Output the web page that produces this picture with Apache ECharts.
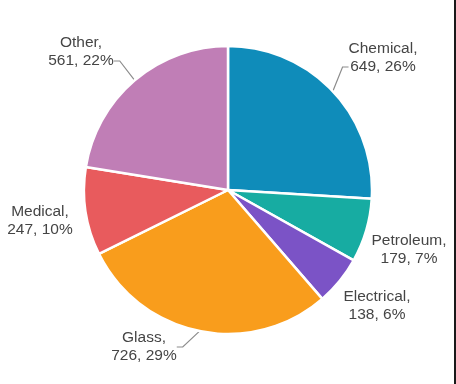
<!DOCTYPE html>
<html>
<head>
<meta charset="utf-8">
<script src="https://cdn.jsdelivr.net/npm/echarts@6/dist/echarts.min.js"></script>
<style>
html,body{margin:0;padding:0;background:#fff;}
#wrap{width:454px;height:384px;border-right:2px solid #1a1a1a;}
#chart{width:454px;height:384px;}
</style>
</head>
<body>
<div id="wrap"><div id="chart"></div></div>
<script>
const categories = ['Chemical', 'Petroleum', 'Electrical', 'Glass', 'Medical', 'Other'];
const values = [649, 179, 138, 726, 247, 561];
const colors = ['#0f8cba', '#17aca2', '#7b53c6', '#f99d1c', '#e85b5d', '#c07eb6'];
const showLine = [true, false, false, true, false, true];
// label line attaches to second text line for these
const lineOnSecond = [true, false, false, false, false, true];
// label anchor positions (layout, not data)
const labelPos = [[383, 67], [409, 250], [377, 306], [144, 347], [40, 221], [81, 61]];

const total = values.reduce((a, b) => a + b, 0);
const chart = echarts.init(document.getElementById('chart'));
chart.setOption({
  animation: false,
  series: [{
    type: 'pie',
    center: [228, 190],
    radius: [0, 144],
    startAngle: 90,
    clockwise: true,
    avoidLabelOverlap: false,
    itemStyle: { borderColor: '#fff', borderWidth: 2.5 },
    label: {
      show: true,
      position: 'outside',
      color: '#454545',
      fontFamily: 'Liberation Sans, Arial, sans-serif',
      fontSize: 15.5,
      lineHeight: 18,
      align: 'center',
      formatter: p => p.name + ',\n' + p.value + ', ' + Math.round(p.value / total * 100) + '%' + (lineOnSecond[p.dataIndex] ? '\n ' : '')
    },
    labelLine: { show: true, length: 8, length2: 6, lineStyle: { color: '#8c8c8c', width: 1.2 } },
    labelLayout: p => ({ x: labelPos[p.dataIndex][0], y: labelPos[p.dataIndex][1], align: 'center', verticalAlign: 'middle' }),
    data: categories.map((c, i) => ({
      name: c, value: values[i],
      itemStyle: { color: colors[i] },
      labelLine: { show: showLine[i] }
    }))
  }]
});
</script>
</body>
</html>
